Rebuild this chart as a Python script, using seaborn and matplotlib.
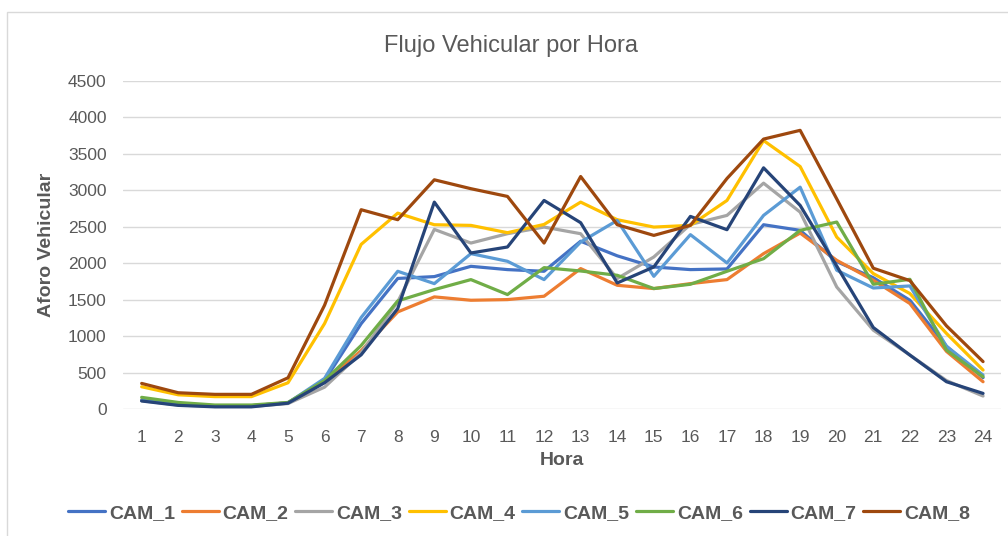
import numpy as np
import pandas as pd
import matplotlib
matplotlib.use("Agg")
import matplotlib.pyplot as plt
import seaborn as sns

horas = list(range(1, 25))

cam_1 = [120, 65, 45, 45, 85, 390, 1170, 1790, 1815, 1956, 1911, 1888, 2300, 2100, 1947, 1911, 1920, 2526, 2449, 2020, 1800, 1491, 860, 430]
cam_2 = [125, 65, 45, 45, 85, 370, 800, 1331, 1537, 1491, 1500, 1546, 1925, 1696, 1651, 1719, 1774, 2130, 2412, 2038, 1765, 1446, 790, 374]
cam_3 = [115, 55, 35, 35, 75, 300, 770, 1470, 2462, 2275, 2403, 2494, 2403, 1788, 2084, 2530, 2654, 3096, 2699, 1673, 1081, 740, 390, 178]
cam_4 = [305, 195, 170, 170, 360, 1172, 2257, 2685, 2526, 2517, 2417, 2530, 2836, 2595, 2494, 2517, 2859, 3680, 3324, 2357, 1856, 1583, 1036, 534]
cam_5 = [120, 65, 45, 45, 85, 420, 1254, 1888, 1719, 2130, 2025, 1774, 2289, 2585, 1819, 2390, 2002, 2654, 3041, 1902, 1659, 1687, 860, 465]
cam_6 = [160, 90, 55, 55, 90, 390, 871, 1482, 1637, 1774, 1569, 1938, 1892, 1833, 1651, 1710, 1888, 2061, 2449, 2563, 1710, 1778, 807, 442]
cam_7 = [110, 50, 30, 30, 80, 360, 743, 1377, 2836, 2139, 2221, 2859, 2554, 1728, 1947, 2640, 2458, 3306, 2791, 1960, 1117, 739, 374, 214]
cam_8 = [351, 223, 201, 201, 428, 1423, 2732, 2595, 3142, 3020, 2914, 2275, 3187, 2526, 2380, 2517, 3160, 3700, 3820, 2880, 1930, 1760, 1140, 650]

series = {"CAM_1": cam_1, "CAM_2": cam_2, "CAM_3": cam_3, "CAM_4": cam_4,
          "CAM_5": cam_5, "CAM_6": cam_6, "CAM_7": cam_7, "CAM_8": cam_8}
colores = ["#4472C4", "#ED7D31", "#A5A5A5", "#FFC000",
           "#5B9BD5", "#70AD47", "#264478", "#9E480E"]

rows = []
for cam, vals in series.items():
    for h, v in zip(horas, vals):
        rows.append({"Hora": h, "Aforo": v, "Camara": cam})
df = pd.DataFrame(rows)

sns.set_style("white")
plt.rcParams["font.family"] = ["Liberation Sans", "DejaVu Sans"]
gris = "#595959"

fig = plt.figure(figsize=(10.08, 5.36), dpi=100)
ax = fig.add_axes([0.1224, 0.2369, 0.8710, 0.6125])

sns.lineplot(data=df, x="Hora", y="Aforo", hue="Camara", palette=colores,
             linewidth=2.3, ax=ax, legend=False)

ax.set_xlim(0.5, 24.5)
ax.set_ylim(0, 4500)
ax.set_xticks(horas)
ax.set_yticks(np.arange(0, 4501, 500))
ax.yaxis.grid(True, color="#D9D9D9", linewidth=1)
ax.set_axisbelow(True)
for s in ax.spines.values():
    s.set_visible(False)
ax.tick_params(axis="x", length=0, labelsize=12.5, colors=gris, pad=15)
ax.tick_params(axis="y", length=0, labelsize=12.5, colors=gris, pad=12)

ax.set_xlabel("Hora", fontsize=14, fontweight="bold", color=gris, labelpad=5)
ax.set_ylabel("Aforo Vehicular", fontsize=14, fontweight="bold", color=gris, labelpad=9)
fig.text(0.507, 0.915, "Flujo Vehicular por Hora", ha="center", va="center",
         fontsize=17, color=gris)

handles = [plt.Line2D([], [], color=c, linewidth=2.3) for c in colores]
leg = fig.legend(handles, list(series.keys()), loc="center", ncol=8,
                 bbox_to_anchor=(0.515, 0.043), frameon=False,
                 handlelength=1.9, columnspacing=0.35, handletextpad=0.2,
                 prop={"weight": "bold", "size": 14})
for t in leg.get_texts():
    t.set_color(gris)

border = plt.Rectangle((7 / 1008, -0.05), 1.1, 1 - 12 / 536 + 0.05,
                       transform=fig.transFigure, fill=False,
                       edgecolor="#D9D9D9", linewidth=1)
fig.patches.append(border)

fig.savefig("out.png", dpi=100)
